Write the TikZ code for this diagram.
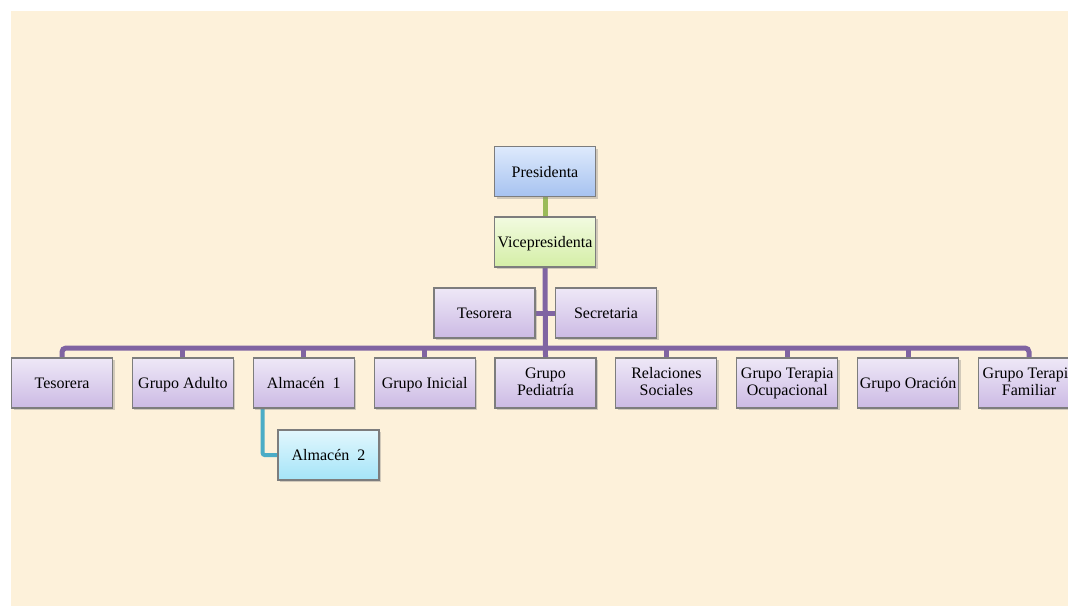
\documentclass[tikz,border=0pt]{standalone}
\usepackage{fontspec}
\setmainfont{Liberation Serif}
\usepackage{tikz}
\usetikzlibrary{shadows}
\usetikzlibrary{calc}
\usetikzlibrary{backgrounds}

\definecolor{crema}{RGB}{253,241,218}
\definecolor{lila}{RGB}{128,100,162}
\definecolor{verde}{RGB}{155,187,89}
\definecolor{turquesa}{RGB}{75,172,198}
\definecolor{borde}{RGB}{125,125,125}

\tikzset{
  cargo/.style={draw=borde, line width=0.6pt, minimum width=50.5pt, minimum height=25pt,
    inner sep=1pt, align=center, font=\fontsize{8}{8.5}\selectfont,
    execute at begin node={\rule[-1.5pt]{0pt}{8.5pt}}, execute at end node={\rule[-1.5pt]{0pt}{8.5pt}},
    drop shadow={shadow xshift=1pt, shadow yshift=-1.2pt, opacity=0.35}},
  azul/.style={cargo, top color={rgb,255:red,222;green,234;blue,252}, bottom color={rgb,255:red,166;green,194;blue,240}},
  verdoso/.style={cargo, top color={rgb,255:red,242;green,251;blue,224}, bottom color={rgb,255:red,212;green,238;blue,166}},
  morado/.style={cargo, top color={rgb,255:red,238;green,232;blue,247}, bottom color={rgb,255:red,204;green,186;blue,228}},
  celeste/.style={cargo, top color={rgb,255:red,226;green,247;blue,253}, bottom color={rgb,255:red,164;green,228;blue,248}},
  lineamorada/.style={draw=lila, line width=2.5pt},
}

\begin{document}
\begin{tikzpicture}[x=0.5pt, y=-0.5pt]
      \useasboundingbox (0, 0) rectangle (1068, 606);
      \clip (0, 0) rectangle (1068, 606);

      % cargos
      \coordinate (barra) at (545, 348);
      \node[azul] (pres) at (545, 171.5) {Presidenta};
      \node[verdoso] (vice) at (545, 242) {Vicepresidenta};
      \node[morado] (tes) at (484.5, 313) {Tesorera};
      \node[morado] (sec) at (606, 313) {Secretaria};

      \foreach \i/\txt in {1/Tesorera, 2/Grupo Adulto, 3/Almac\'en\ \ 1, 4/Grupo Inicial,
        5/{Grupo\\Pediatr\'ia}, 6/{Relaciones\\Sociales}, 7/{Grupo Terapia\\Ocupacional},
        8/Grupo Oraci\'on, 9/{Grupo Terapia\\Familiar}}
        \node[morado] (g\i) at ({62 + (\i - 1) * 120.875}, 383) {\txt};

      \node[celeste] (alm) at (328.5, 455) {Almac\'en\ \ 2};

      % fondo y conectores
      \begin{scope}[on background layer]
        \fill[white] (0, 0) rectangle (1068, 606);
        \fill[crema] (11, 11) rectangle (1068, 606);
        \draw[draw=verde, line width=2.5pt] (pres.south) -- (vice.north);
        \draw[lineamorada] (vice.south) -- (g5.north);
        \draw[lineamorada] (tes.east) -- (sec.west);
        \draw[lineamorada, rounded corners=2pt] (g1.north) -- (g1.north |- barra) -- (g9.north |- barra) -- (g9.north);
        \foreach \i in {2, 3, 4, 6, 7, 8}
          \draw[lineamorada] (g\i.north |- barra) -- (g\i.north);
        \draw[draw=turquesa, line width=2pt, rounded corners=1pt] ($(g3.south west) + (10, 0)$) |- (alm.west);
      \end{scope}
    \end{tikzpicture}
\end{document}
